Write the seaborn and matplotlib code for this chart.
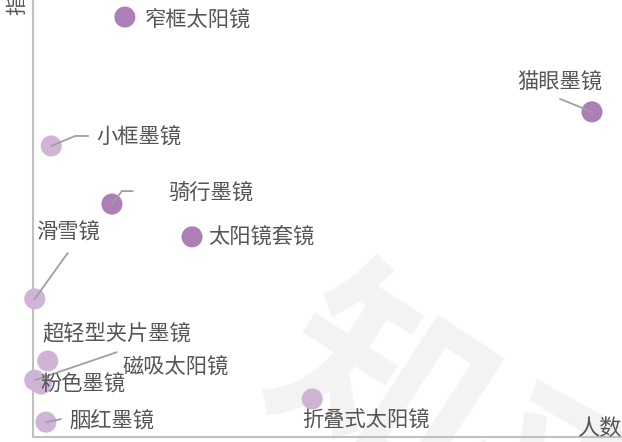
import numpy as np
import pandas as pd
import matplotlib
matplotlib.use("Agg")
import matplotlib.pyplot as plt
import seaborn as sns

# ---- data ----
names = ["窄框太阳镜", "猫眼墨镜", "小框墨镜", "骑行墨镜", "太阳镜套镜", "滑雪镜",
         "超轻型夹片墨镜", "磁吸太阳镜", "粉色墨镜", "胭红墨镜", "折叠式太阳镜"]
people = [15.6, 94.9, 3.1, 13.4, 27.0, 0.3, 2.5, 0.3, 1.4, 2.2, 47.4]
index_vals = [96.1, 74.4, 66.6, 53.3, 45.8, 31.6, 17.4, 13.0, 12.1, 3.4, 8.7]
groups = ["深", "深", "浅", "深", "深", "浅", "浅", "浅", "浅", "浅", "浅"]

# label placement (pixel offsets from point: dx, dy up) and leader polylines
label_offsets = {
    "窄框太阳镜": (20, -3), "猫眼墨镜": (-75, 30), "小框墨镜": (45, 8),
    "骑行墨镜": (56, 11), "太阳镜套镜": (16, 0), "滑雪镜": (1, 66),
    "超轻型夹片墨镜": (-5, 28), "磁吸太阳镜": (88, 13), "粉色墨镜": (-1, -1),
    "胭红墨镜": (24, 0), "折叠式太阳镜": (-10, -22),
}
leaders = {
    "猫眼墨镜": [(0, 0), (-32, 13)],
    "小框墨镜": [(0, 0), (24, 10), (37, 10)],
    "骑行墨镜": [(0, 0), (10, 13), (21, 13)],
    "滑雪镜": [(0, 0), (33, 46)],
    "磁吸太阳镜": [(0, 0), (82, 28)],
    "胭红墨镜": [(0, 0), (15, 3)],
}

df = pd.DataFrame({"name": names, "人数": people, "指数": index_vals, "g": groups})

sns.set_theme(style="white")
plt.rcParams["font.family"] = ["Noto Sans CJK SC", "DejaVu Sans"]

fig = plt.figure(figsize=(6.22, 4.42), dpi=100)
ax = fig.add_axes([33 / 622, 5 / 442, 589 / 622, 437 / 442])

# watermark (behind everything in the axes)
ax.text(0.745, -0.02, "知乎", transform=fig.transFigure, fontsize=150, color="#f3f3f3",
        rotation=-33, ha="center", va="center", zorder=0, clip_on=False,
        fontweight="bold")

sns.scatterplot(data=df, x="人数", y="指数", hue="g",
                palette={"深": "#ac80b7", "浅": "#d0b4d6"},
                s=230, edgecolor="none", legend=False, ax=ax, clip_on=False, zorder=3)

ax.set_xlim(0, 100)
ax.set_ylim(0, 100)
ax.set_xticks([])
ax.set_yticks([])
ax.set_xlabel("")
ax.set_ylabel("")
for side in ["top", "right"]:
    ax.spines[side].set_visible(False)
for side in ["left", "bottom"]:
    ax.spines[side].set_color("#c0c0c0")
    ax.spines[side].set_linewidth(1.5)

txt_color = "#555555"
for n, x, y in zip(names, people, index_vals):
    if n in leaders:
        base = ax.transData.transform((x, y))
        pts = np.array([base + np.array(o) for o in leaders[n]])
        dpts = ax.transData.inverted().transform(pts)
        ax.plot(dpts[:, 0], dpts[:, 1], color="#a0a0a0", lw=1.3, clip_on=False, zorder=4)
    dx, dy = label_offsets[n]
    ax.annotate(n, (x, y), xytext=(dx, dy), textcoords="offset pixels",
                ha="left", va="center", fontsize=15.3, color=txt_color,
                zorder=5, annotation_clip=False)

fig.text(17 / 622, 1 - 15 / 442, "指数", rotation=90, ha="center", va="bottom",
         fontsize=15, color=txt_color)
fig.text(1.0, (442 - 429) / 442, "人数", ha="right", va="center",
         fontsize=16, color=txt_color)

fig.savefig("out.png", dpi=100)
